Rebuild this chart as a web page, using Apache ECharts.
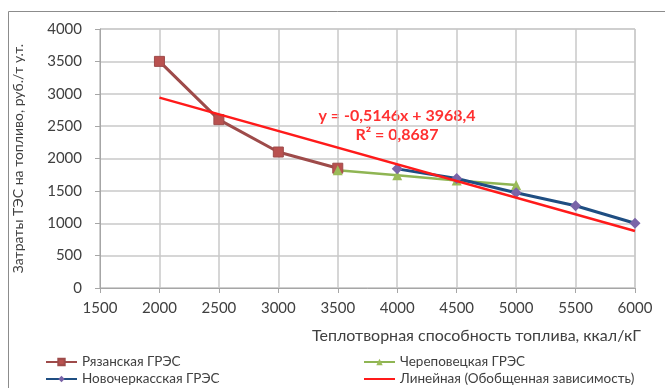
<!DOCTYPE html>
<html>
<head>
<meta charset="utf-8">
<script src="https://cdn.jsdelivr.net/npm/echarts@6/dist/echarts.min.js"></script>
<style>
	html, body { margin: 0; padding: 0; background: #fff; }
	#chart { width: 665px; height: 388px; }
</style>
</head>
<body>
<div id="chart"></div>
<script>
// данные
var ryazanX = [2000, 2500, 3000, 3500];
var ryazanY = [3500, 2600, 2100, 1850];
var cherepX = [3500, 4000, 4500, 5000];
var cherepY = [1820, 1740, 1660, 1590];
var novochX = [4000, 4500, 5000, 5500, 6000];
var novochY = [1840, 1690, 1470, 1270, 1000];
var trendX = [2000, 6000];
var trendY = [2940, 880];
var seriesNames = ['Рязанская ГРЭС', 'Череповецкая ГРЭС', 'Новочеркасская ГРЭС', 'Линейная (Обобщенная зависимость)'];

function pairs(xs, ys) {
	var out = [];
	for (var i = 0; i < xs.length; i++) {
		out.push([xs[i], ys[i]]);
	}
	return out;
}

var font = 'Lato';
var txt = '#404040';
var gridCol = '#c8c8c8';

// одна легенда на каждый пункт, чтобы расставить их в две колонки
var legendPos = [[45, 355], [363, 355], [45, 372], [363, 372]];
var legends = [];
for (var k = 0; k < seriesNames.length; k++) {
	var item = { name: seriesNames[k] };
	if (k == 3) {
		item.itemStyle = { opacity: 0 };  // у линии тренда нет маркера
	}
	legends.push({
		left: legendPos[k][0],
		top: legendPos[k][1],
		padding: 0,
		itemWidth: 31,
		itemHeight: 8,
		data: [item],
		textStyle: { color: txt, fontSize: 13.5, fontFamily: font }
	});
}

var myChart = echarts.init(document.getElementById('chart'));
myChart.setOption({
	animation: false,
	textStyle: { fontFamily: font },
	grid: {
		show: true,
		borderColor: gridCol,
		borderWidth: 1,
		left: 100,
		right: 30,
		top: 29,
		bottom: 100
	},
	xAxis: {
		type: 'value',
		min: 1500,
		max: 6000,
		interval: 500,
		axisLine: { show: true, lineStyle: { color: '#a6a6a6' } },
		axisTick: { show: true, length: 5, lineStyle: { color: '#a6a6a6' } },
		splitLine: { lineStyle: { color: gridCol, width: 1.5 } },
		axisLabel: { color: txt, fontSize: 15, margin: 13, fontFamily: font, formatter: function(v) { return String(v); } }
	},
	yAxis: {
		type: 'value',
		min: 0,
		max: 4000,
		interval: 500,
		name: 'Затраты ТЭС на топливо, руб./т у.т.',
		nameLocation: 'middle',
		nameGap: 75,
		nameTextStyle: { color: txt, fontSize: 14, fontFamily: font },
		axisLine: { show: true, lineStyle: { color: '#a6a6a6' } },
		axisTick: { show: true, length: 5, lineStyle: { color: '#a6a6a6' } },
		splitLine: { lineStyle: { color: gridCol, width: 1.5 } },
		axisLabel: { color: txt, fontSize: 15, margin: 18, fontFamily: font, formatter: function(v) { return String(v); } }
	},
	legend: legends,
	graphic: [{
		type: 'rect',
		shape: { x: 8.5, y: 11.5, width: 700, height: 420 },
		style: { fill: 'none', stroke: '#8c8c8c', lineWidth: 1 },
		silent: true
	}, {
		type: 'text',
		left: 312,
		top: 328,
		style: { text: 'Теплотворная способность топлива, ккал/кГ', fill: txt, font: '16px Lato' }
	}, {
		type: 'text',
		x: 397,
		y: 116,
		style: { text: 'y = -0,5146x + 3968,4', fill: '#ff3030', font: 'bold 16px Lato', align: 'center', verticalAlign: 'middle' }
	}, {
		type: 'text',
		x: 397,
		y: 135,
		style: { text: 'R² = 0,8687', fill: '#ff3030', font: 'bold 16px Lato', align: 'center', verticalAlign: 'middle' }
	}],
	series: [{
		name: seriesNames[0],
		type: 'line',
		data: pairs(ryazanX, ryazanY),
		symbol: 'rect',
		symbolSize: 10,
		z: 3,
		lineStyle: { color: '#9e4b4a', width: 3 },
		itemStyle: { color: '#b9514f', borderColor: '#9e4b4a', borderWidth: 1 }
	}, {
		name: seriesNames[1],
		type: 'line',
		data: pairs(cherepX, cherepY),
		symbol: 'triangle',
		symbolSize: 10,
		z: 3,
		lineStyle: { color: '#8fb553', width: 2.5 },
		itemStyle: { color: '#9bbb59' }
	}, {
		name: seriesNames[2],
		type: 'line',
		data: pairs(novochX, novochY),
		symbol: 'diamond',
		symbolSize: 11,
		z: 4,
		lineStyle: { color: '#1f4e82', width: 3 },
		itemStyle: { color: '#7a64a8' }
	}, {
		name: seriesNames[3],
		type: 'line',
		data: pairs(trendX, trendY),
		symbol: 'none',
		z: 5,
		lineStyle: { color: '#ff1a1a', width: 2.5 },
		itemStyle: { color: '#ff1a1a' }
	}]
});
</script>
</body>
</html>
